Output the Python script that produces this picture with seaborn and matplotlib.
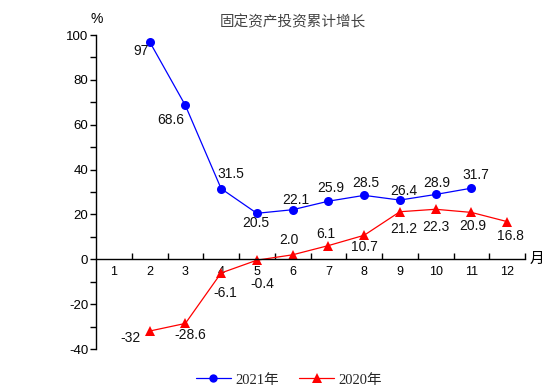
import numpy as np
import pandas as pd
import seaborn as sns
import matplotlib
matplotlib.use("Agg")
import matplotlib.pyplot as plt
from matplotlib.lines import Line2D
from matplotlib.ticker import MultipleLocator, FixedLocator

# ---- data ----
months_2021 = [2, 3, 4, 5, 6, 7, 8, 9, 10, 11]
values_2021 = [97, 68.6, 31.5, 20.5, 22.1, 25.9, 28.5, 26.4, 28.9, 31.7]
labels_2021 = ["97", "68.6", "31.5", "20.5", "22.1", "25.9", "28.5", "26.4", "28.9", "31.7"]
months_2020 = [2, 3, 4, 5, 6, 7, 8, 9, 10, 11, 12]
values_2020 = [-32, -28.6, -6.1, -0.4, 2.0, 6.1, 10.7, 21.2, 22.3, 20.9, 16.8]
labels_2020 = ["-32", "-28.6", "-6.1", "-0.4", "2.0", "6.1", "10.7", "21.2", "22.3", "20.9", "16.8"]
x_ticks = list(range(1, 13))
title = "固定资产投资累计增长"
series_names = ["2021年", "2020年"]

# label offsets in pixels (dx, dy_down)
off_2021 = [(-9, 9), (-15, 15), (10, -15), (-1, 10), (3, -10), (2, -13), (2, -12), (4, -9), (1, -11), (4, -13)]
off_2020 = [(-19, 7), (5, 12), (4, 20), (5, 24), (-4, -15), (-3, -12), (0, 12), (4, 17), (0, 18), (1, 14), (3, 14)]

df = pd.concat([
    pd.DataFrame({"month": months_2021, "value": values_2021, "year": series_names[0]}),
    pd.DataFrame({"month": months_2020, "value": values_2020, "year": series_names[1]}),
])

sns.set_theme(style="white")
plt.rcParams["font.family"] = ["Liberation Sans", "Noto Sans CJK SC"]
plt.rcParams["axes.unicode_minus"] = False

fig = plt.figure(figsize=(5.54, 3.92), dpi=100)
ax = fig.add_axes([96 / 554, 1 - 349 / 392, (525 - 96) / 554, (349 - 35) / 392])

colors = {series_names[0]: "#0000ff", series_names[1]: "#ff0000"}
sns.lineplot(data=df, x="month", y="value", hue="year", style="year",
             markers={series_names[0]: "o", series_names[1]: "^"}, dashes=False,
             palette=colors, linewidth=0.9, markersize=6.5, markeredgewidth=0,
             legend=False, ax=ax)

px = 0.72
for m, v, lab, (dx, dy) in zip(months_2021, values_2021, labels_2021, off_2021):
    ax.annotate(lab, (m, v), xytext=(dx * px, -dy * px), textcoords="offset points",
                ha="center", va="center", fontsize=10, color="#111111")
for m, v, lab, (dx, dy) in zip(months_2020, values_2020, labels_2020, off_2020):
    ax.annotate(lab, (m, v), xytext=(dx * px, -dy * px), textcoords="offset points",
                ha="center", va="center", fontsize=10, color="#111111")

ax.set_xlim(0.5, 12.5)
ax.set_ylim(-40, 100)
ax.set_xlabel("")
ax.set_ylabel("")

for s in ["top", "right"]:
    ax.spines[s].set_visible(False)
ax.spines["bottom"].set_position(("data", 0))
for s in ["left", "bottom"]:
    ax.spines[s].set_color("black")
    ax.spines[s].set_linewidth(1.0)

ax.xaxis.set_major_locator(FixedLocator(x_ticks))
ax.set_xticklabels([str(t) for t in x_ticks])
ax.xaxis.set_minor_locator(FixedLocator([t + 0.5 for t in x_ticks]))
ax.tick_params(axis="x", which="major", length=0, pad=5, labelsize=9, colors="black")
ax.tick_params(axis="x", which="minor", direction="in", length=4, width=1, color="black", bottom=True)

ax.yaxis.set_major_locator(MultipleLocator(20))
ax.yaxis.set_minor_locator(MultipleLocator(10))
ax.tick_params(axis="y", which="major", direction="out", length=4, width=1, pad=1.5,
               labelsize=9.5, colors="black", left=True)
ax.tick_params(axis="y", which="minor", direction="out", length=4, width=1, color="black", left=True)
ax.grid(False)

fig.text(293 / 554, 1 - 22 / 392, title, ha="center", va="center", fontsize=10.5,
         color="#444444", family=["Noto Sans CJK SC"])
fig.text(97 / 554, 1 - 19 / 392, "%", ha="center", va="center", fontsize=10, color="black")
fig.text(537 / 554, 1 - 259 / 392, "月", ha="center", va="center", fontsize=10.5,
         color="black", family=["Noto Sans CJK SC"])

handles = [
    Line2D([], [], color=colors[series_names[0]], marker="o", markersize=6, markeredgewidth=0, linewidth=0.9),
    Line2D([], [], color=colors[series_names[1]], marker="^", markersize=6.5, markeredgewidth=0, linewidth=0.9),
]
fig.legend(handles, series_names, loc="center", bbox_to_anchor=(289 / 554, 1 - 380 / 392),
           ncol=2, frameon=False, handlelength=2.4, handletextpad=0.3, columnspacing=1.4,
           prop={"family": ["Liberation Serif", "Noto Sans CJK SC"], "size": 10.5})

fig.savefig("out.png", dpi=100)
